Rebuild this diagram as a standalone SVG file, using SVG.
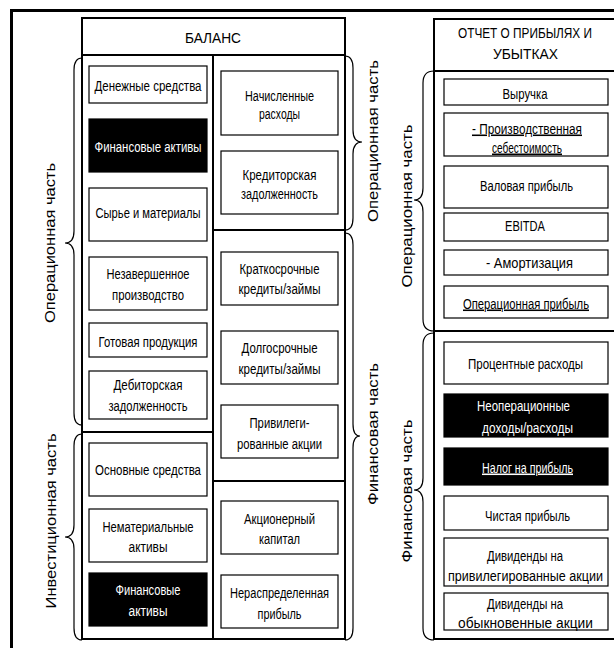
<svg xmlns="http://www.w3.org/2000/svg" width="614" height="648" viewBox="0 0 614 648">
<style>
.frame{fill:none;stroke:#000;stroke-width:3}
.col{fill:#fff;stroke:#000;stroke-width:2}
.div{stroke:#000;stroke-width:2;fill:none}
.box{fill:#fff;stroke:#000;stroke-width:1.2}
.blk{fill:#000;stroke:#000;stroke-width:1.2}
.brace{fill:none;stroke:#000;stroke-width:1.2}
text{font-family:"Liberation Sans Narrow","Arial Narrow","Liberation Sans",Arial,sans-serif;font-size:15.5px;fill:#000;text-anchor:middle}
.w{fill:#fff}
.u{text-decoration:underline}
.rot{font-family:"Liberation Sans",Arial,sans-serif;font-size:15px}
</style>
<rect width="614" height="648" fill="#fff"/>
<path class="frame" d="M11.5 648 V10.5 H614"/>

<g id="balance">
<rect class="col" x="82" y="18" width="263" height="621"/>
<line class="div" x1="82" y1="55" x2="345" y2="55"/>
<line class="div" x1="213" y1="55" x2="213" y2="639"/>
<line class="div" x1="82" y1="432" x2="213" y2="432"/>
<line class="div" x1="213" y1="230" x2="345" y2="230"/>
<line class="div" x1="213" y1="481" x2="345" y2="481"/>
<text x="213" y="42.5" textLength="56" lengthAdjust="spacingAndGlyphs">БАЛАНС</text>
</g>

<g id="b-cash"><rect class="box" x="89" y="66" width="118" height="37"/><text x="148" y="90.5" textLength="107" lengthAdjust="spacingAndGlyphs">Денежные средства</text></g>
<g id="b-finassets1"><rect class="blk" x="89" y="119" width="118" height="53"/><text class="w" x="148" y="151.5" textLength="107" lengthAdjust="spacingAndGlyphs">Финансовые активы</text></g>
<g id="b-raw"><rect class="box" x="89" y="188" width="118" height="53"/><text x="148" y="217.5" textLength="105" lengthAdjust="spacingAndGlyphs">Сырье и материалы</text></g>
<g id="b-wip"><rect class="box" x="89" y="257" width="118" height="53"/><text x="148" y="278.5" textLength="83" lengthAdjust="spacingAndGlyphs">Незавершенное</text><text x="148" y="299.5" textLength="72" lengthAdjust="spacingAndGlyphs">производство</text></g>
<g id="b-finished"><rect class="box" x="89" y="323" width="118" height="34"/><text x="148" y="346.5" textLength="99" lengthAdjust="spacingAndGlyphs">Готовая продукция</text></g>
<g id="b-receivables"><rect class="box" x="89" y="371" width="118" height="48"/><text x="148" y="389.5" textLength="69" lengthAdjust="spacingAndGlyphs">Дебиторская</text><text x="148" y="410.5" textLength="79" lengthAdjust="spacingAndGlyphs">задолженность</text></g>
<g id="b-fixed"><rect class="box" x="89" y="443" width="118" height="53"/><text x="148" y="474.5" textLength="106" lengthAdjust="spacingAndGlyphs">Основные средства</text></g>
<g id="b-intangible"><rect class="box" x="89" y="509" width="118" height="53"/><text x="148" y="531.5" textLength="91" lengthAdjust="spacingAndGlyphs">Нематериальные</text><text x="148" y="551.5" textLength="39" lengthAdjust="spacingAndGlyphs">активы</text></g>
<g id="b-finassets2"><rect class="blk" x="89" y="573" width="118" height="53"/><text class="w" x="148" y="594.5" textLength="65" lengthAdjust="spacingAndGlyphs">Финансовые</text><text class="w" x="148" y="615.5" textLength="39" lengthAdjust="spacingAndGlyphs">активы</text></g>

<g id="b-accrued"><rect class="box" x="221" y="71" width="117" height="64"/><text x="279.5" y="100.5" textLength="69" lengthAdjust="spacingAndGlyphs">Начисленные</text><text x="279.5" y="118.5" textLength="41" lengthAdjust="spacingAndGlyphs">расходы</text></g>
<g id="b-payables"><rect class="box" x="221" y="151" width="117" height="63"/><text x="279.5" y="179.5" textLength="74" lengthAdjust="spacingAndGlyphs">Кредиторская</text><text x="279.5" y="198.5" textLength="77" lengthAdjust="spacingAndGlyphs">задолженность</text></g>
<g id="b-shortdebt"><rect class="box" x="221" y="252" width="117" height="53"/><text x="279.5" y="273.5" textLength="80" lengthAdjust="spacingAndGlyphs">Краткосрочные</text><text x="279.5" y="293.5" textLength="82" lengthAdjust="spacingAndGlyphs">кредиты/займы</text></g>
<g id="b-longdebt"><rect class="box" x="221" y="331" width="117" height="53"/><text x="279.5" y="352.5" textLength="76" lengthAdjust="spacingAndGlyphs">Долгосрочные</text><text x="279.5" y="373.5" textLength="82" lengthAdjust="spacingAndGlyphs">кредиты/займы</text></g>
<g id="b-preferred"><rect class="box" x="221" y="405" width="117" height="53"/><text x="279.5" y="427.5" textLength="60" lengthAdjust="spacingAndGlyphs">Привилеги-</text><text x="279.5" y="448.5" textLength="85" lengthAdjust="spacingAndGlyphs">рованные акции</text></g>
<g id="b-equity"><rect class="box" x="221" y="501" width="117" height="53"/><text x="279.5" y="523.5" textLength="71" lengthAdjust="spacingAndGlyphs">Акционерный</text><text x="279.5" y="543.5" textLength="41" lengthAdjust="spacingAndGlyphs">капитал</text></g>
<g id="b-retained"><rect class="box" x="221" y="575" width="117" height="53"/><text x="279.5" y="597.5" textLength="99" lengthAdjust="spacingAndGlyphs">Нераспределенная</text><text x="279.5" y="618.5" textLength="44" lengthAdjust="spacingAndGlyphs">прибыль</text></g>

<g id="pnl">
<rect class="col" x="434" y="19" width="184" height="620"/>
<line class="div" x1="434" y1="71" x2="614" y2="71"/>
<line class="div" x1="434" y1="331" x2="614" y2="331"/>
<text x="525" y="37.5" textLength="134" lengthAdjust="spacingAndGlyphs">ОТЧЕТ О ПРИБЫЛЯХ И</text>
<text x="525.5" y="58.5" textLength="65" lengthAdjust="spacingAndGlyphs">УБЫТКАХ</text>
</g>

<g id="p-revenue"><rect class="box" x="444" y="79" width="164" height="26"/><text x="525" y="98.5" textLength="45" lengthAdjust="spacingAndGlyphs">Выручка</text></g>
<g id="p-cogs"><rect class="box" x="444" y="113" width="164" height="43"/><text class="u" x="527" y="133.5" textLength="110" lengthAdjust="spacingAndGlyphs">- Производственная</text><text class="u" x="527" y="152.5" textLength="70" lengthAdjust="spacingAndGlyphs">себестоимость</text></g>
<g id="p-gross"><rect class="box" x="444" y="166" width="164" height="42"/><text x="526.5" y="190.5" textLength="93" lengthAdjust="spacingAndGlyphs">Валовая прибыль</text></g>
<g id="p-ebitda"><rect class="box" x="444" y="213" width="164" height="28"/><text x="525" y="230.5" textLength="40" lengthAdjust="spacingAndGlyphs">EBITDA</text></g>
<g id="p-da"><rect class="box" x="444" y="250" width="164" height="25"/><text x="529.5" y="267.5" textLength="87" lengthAdjust="spacingAndGlyphs">- Амортизация</text></g>
<g id="p-ebit"><rect class="box" x="444" y="286" width="164" height="32"/><text class="u" x="526" y="308.5" textLength="126" lengthAdjust="spacingAndGlyphs">Операционная прибыль</text></g>
<g id="p-interest"><rect class="box" x="444" y="342" width="164" height="42"/><text x="525.5" y="368.5" textLength="115" lengthAdjust="spacingAndGlyphs">Процентные расходы</text></g>
<g id="p-nonop"><rect class="blk" x="444" y="394" width="164" height="43"/><text class="w" x="523.5" y="410.5" textLength="93" lengthAdjust="spacingAndGlyphs">Неоперационные</text><text class="w" x="527.5" y="433" textLength="91" lengthAdjust="spacingAndGlyphs">доходы/расходы</text></g>
<g id="p-tax"><rect class="blk" x="444" y="448" width="164" height="37"/><text class="w u" x="527.5" y="472.5" textLength="91" lengthAdjust="spacingAndGlyphs">Налог на прибыль</text></g>
<g id="p-net"><rect class="box" x="444" y="496" width="164" height="34"/><text x="527.5" y="520.5" textLength="85" lengthAdjust="spacingAndGlyphs">Чистая прибыль</text></g>
<g id="p-divpref"><rect class="box" x="444" y="538" width="164" height="48"/><text x="525" y="560.5" textLength="76" lengthAdjust="spacingAndGlyphs">Дивиденды на</text><text x="525.5" y="580.5" textLength="155" lengthAdjust="spacingAndGlyphs">привилегированные акции</text></g>
<g id="p-divcommon"><rect class="box" x="444" y="593" width="164" height="37"/><text x="525" y="609" textLength="76" lengthAdjust="spacingAndGlyphs">Дивиденды на</text><text x="525.5" y="628" textLength="135" lengthAdjust="spacingAndGlyphs">обыкновенные акции</text></g>

<g id="braces">
<path class="brace" d="M82 58 Q74 58 74 70 L74 231 Q74 243 65 243 Q74 243 74 255 L74 413 Q74 425 82 425"/>
<path class="brace" d="M82 434 Q74 434 74 446 L74 525 Q74 537 65 537 Q74 537 74 549 L74 628 Q74 640 82 640"/>
<path class="brace" d="M345 56 Q353 56 353 68 L353 130 Q353 142 362 142 Q353 142 353 154 L353 218 Q353 230 345 230"/>
<path class="brace" d="M345 233 Q353 233 353 245 L353 424 Q353 436 360 436 Q353 436 353 448 L353 628 Q353 640 345 640"/>
<path class="brace" d="M434 71 Q423 71 423 83 L423 188 Q423 200 414 200 Q423 200 423 212 L423 319 Q423 331 434 331"/>
<path class="brace" d="M434 333 Q423 333 423 345 L423 478 Q423 490 414 490 Q423 490 423 502 L423 628 Q423 640 434 640"/>
</g>

<g id="labels">
<text class="rot" transform="translate(55,243) rotate(-90)" textLength="160" lengthAdjust="spacingAndGlyphs">Операционная часть</text>
<text class="rot" transform="translate(56,521) rotate(-90)" textLength="175" lengthAdjust="spacingAndGlyphs">Инвестиционная часть</text>
<text class="rot" transform="translate(378,141) rotate(-90)" textLength="162" lengthAdjust="spacingAndGlyphs">Операционная часть</text>
<text class="rot" transform="translate(378,434) rotate(-90)" textLength="142" lengthAdjust="spacingAndGlyphs">Финансовая часть</text>
<text class="rot" transform="translate(412,206) rotate(-90)" textLength="163" lengthAdjust="spacingAndGlyphs">Операционная часть</text>
<text class="rot" transform="translate(412,491) rotate(-90)" textLength="143" lengthAdjust="spacingAndGlyphs">Финансовая часть</text>
</g>
</svg>
